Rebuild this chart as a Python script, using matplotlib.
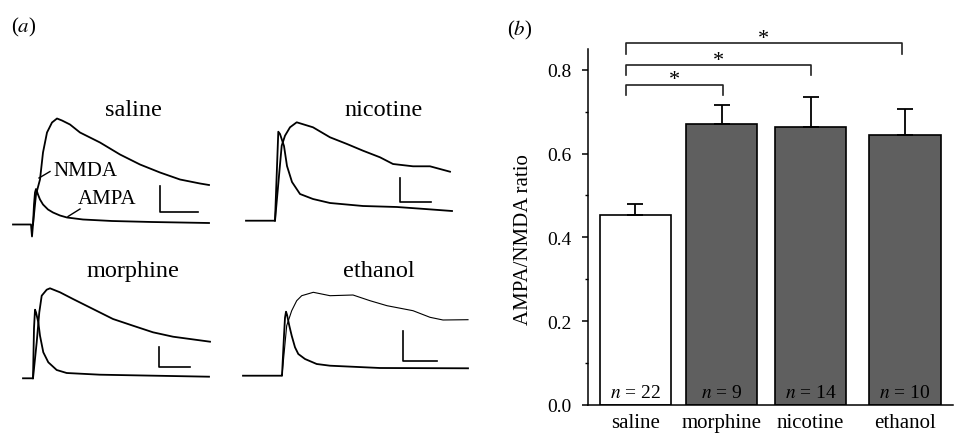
import matplotlib
matplotlib.use("Agg")
import matplotlib.pyplot as plt
from matplotlib.ticker import MultipleLocator

plt.rcParams['font.family'] = ['Liberation Serif', 'DejaVu Serif']
plt.rcParams['mathtext.fontset'] = 'stix'

# ---------------- data: panel (b) ----------------
groups = ["saline", "morphine", "nicotine", "ethanol"]
ratio = [0.453, 0.671, 0.664, 0.645]
sem = [0.026, 0.045, 0.072, 0.061]
n_cells = [22, 9, 14, 10]
sig_pairs = [(0, 1), (0, 2), (0, 3)]

# ---------------- data: panel (a) traces (time, amplitude; arbitrary units) ----------------
saline_t_ampa = [-19, -1, 0, 1, 2, 3, 4, 5, 6, 8, 11, 16, 21, 28, 35, 51, 80, 120, 177]
saline_a_ampa = [0, 0, -12, 0, 20, 32, 35.5, 33, 30, 25, 20, 15, 12, 9, 7, 5, 3.5, 2.5, 1.5]
saline_t_nmda = [1, 2, 4, 8, 11, 15, 20, 25, 30, 38, 48, 68, 88, 108, 128, 148, 168, 177]
saline_a_nmda = [0, 10, 30, 45, 72, 92, 102, 106, 104, 100, 92, 82, 70, 60, 52, 45, 41, 39.5]

nicotine_t_ampa = [-29, -1, 0, 3.3, 5, 9, 12, 17, 25, 38, 55, 88, 122, 150, 177]
nicotine_a_ampa = [0, 0, 0, 89, 86.7, 74.7, 54.7, 38.7, 26.7, 21.7, 17.7, 14.7, 13.7, 11.7, 9.7]
nicotine_t_nmda = [0, 6.7, 10, 15, 21.7, 38, 55, 72, 88, 105, 118, 138, 155, 175]
nicotine_a_nmda = [0, 75, 85, 93.4, 98.4, 93.4, 83.4, 76.7, 70, 63.4, 56.7, 54.4, 54.4, 49]

morphine_t_ampa = [-10, -1, 0, 1, 2, 3, 5.3, 7, 10.3, 15.3, 23.7, 33.7, 67, 176]
morphine_a_ampa = [0, 0, 0, 50, 68.6, 66, 56, 42.6, 26, 16, 8.3, 5.3, 3.6, 1.6]
morphine_t_nmda = [0, 3.7, 6.3, 8.7, 13.7, 17, 27, 40, 60, 80, 100, 120, 140, 177]
morphine_a_nmda = [0, 36, 66, 82.6, 88.6, 90, 86, 79.3, 69.3, 59.3, 52.6, 46, 41.6, 36.6]

ethanol_t_ampa = [-39, -1, 0, 2, 3, 4, 5, 7.3, 9.7, 13, 16.3, 23, 34.7, 48, 98, 186]
ethanol_a_ampa = [0, 0, 0, 40, 58, 64, 61, 50, 40, 28.4, 21.7, 16.7, 11.7, 10, 7.7, 7.4]
ethanol_t_nmda = [0, 4.7, 9.7, 14.7, 19.7, 31.3, 48, 71, 88, 105, 131, 148, 161, 186]
ethanol_a_nmda = [0, 50, 65, 75, 80, 83.4, 80, 80.7, 75, 70, 65, 58.4, 55.7, 56]

W, H = 958, 435
fig = plt.figure(figsize=(W / 100, H / 100), dpi=100)


def px_axes(left, top, right, bottom):
    return fig.add_axes([left / W, 1 - bottom / H, (right - left) / W, (bottom - top) / H])


def trace_panel(box, stim_x, base_y, t_a, a_a, t_n, a_n, bar, title, title_xy, nmda_lw=1.3):
    l, t, r, b = box
    ax = px_axes(l, t, r, b)
    ax.set_xlim(l - stim_x, r - stim_x)
    ax.set_ylim(base_y - b, base_y - t)
    ax.axis('off')
    ax.plot(t_n, a_n, color='black', lw=nmda_lw, solid_joinstyle='round')
    ax.plot(t_a, a_a, color='black', lw=1.3, solid_joinstyle='round')
    bx, by0, by1, bx1 = bar
    ax.plot([bx, bx, bx1], [by1, by0, by0], color='black', lw=1.2)
    ax.text(title_xy[0], title_xy[1], title, ha='center', va='center', fontsize=17.5)
    return ax


ax1 = trace_panel((8, 95, 215, 242), 32, 225.5, saline_t_ampa, saline_a_ampa,
                  saline_t_nmda, saline_a_nmda, (128, 12.5, 38.5, 166), "saline", (101, 114.5))
ax1.plot([7, 18], [46.5, 53], color='black', lw=1.0)
ax1.text(21, 53.5, "NMDA", ha='left', va='center', fontsize=15)
ax1.plot([36, 48], [8, 15.5], color='black', lw=1.0)
ax1.text(46, 25.5, "AMPA", ha='left', va='center', fontsize=15)

trace_panel((238, 95, 462, 235), 275, 221.7, nicotine_t_ampa, nicotine_a_ampa,
            nicotine_t_nmda, nicotine_a_nmda, (125, 18.7, 42.7, 156), "nicotine", (109, 110.7))
trace_panel((15, 255, 218, 392), 33, 379.3, morphine_t_ampa, morphine_a_ampa,
            morphine_t_nmda, morphine_a_nmda, (126, 11.3, 31.3, 157), "morphine", (100, 107.3))
trace_panel((235, 255, 475, 392), 282, 376.7, ethanol_t_ampa, ethanol_a_ampa,
            ethanol_t_nmda, ethanol_a_nmda, (121, 14.7, 44.7, 155), "ethanol", (97, 104.7),
            nmda_lw=0.8)

fig.text(24 / W, 1 - 27 / H, "($a$)", ha='center', va='center', fontsize=15)
fig.text(520 / W, 1 - 30 / H, "($b$)", ha='center', va='center', fontsize=15)

# ---------------- panel (b) ----------------
axb = px_axes(588.3, 50, 953, 405.7)
pos = [0, 0.96, 1.95, 3.0]
colors = ['white', '#5f5f5f', '#5f5f5f', '#5f5f5f']
axb.bar(pos, ratio, width=0.79, color=colors, edgecolor='black', linewidth=1.2, zorder=2)
axb.errorbar(pos, ratio, yerr=[[0] * 4, sem], fmt='none', ecolor='black', elinewidth=1.3,
             capsize=6, capthick=1.3, zorder=3)
axb.set_xlim(-0.523, 3.534)
axb.set_ylim(0, 0.85)
for s in ['top', 'right']:
    axb.spines[s].set_visible(False)
for s in ['left', 'bottom']:
    axb.spines[s].set_linewidth(1.1)
axb.yaxis.set_minor_locator(MultipleLocator(0.1))
axb.set_yticks([0, 0.2, 0.4, 0.6, 0.8])
axb.set_yticklabels(["0.0", "0.2", "0.4", "0.6", "0.8"], fontsize=14)
axb.tick_params(axis='y', which='major', direction='out', length=4, width=1.1, pad=8)
axb.tick_params(axis='y', which='minor', direction='out', length=2.2, width=1.0)
axb.set_xticks(pos)
axb.set_xticklabels(groups, fontsize=15)
axb.tick_params(axis='x', length=0, pad=6)
axb.set_ylabel("AMPA/NMDA ratio", fontsize=15)
axb.yaxis.set_label_coords(-0.152, 0.466)

for p, n in zip(pos, n_cells):
    axb.text(p, 0.0295, f"$n$ = {n}", ha='center', va='center', fontsize=14, zorder=4)

bracket_y = [0.7647, 0.8117, 0.8636]
drop = 0.025
for (i, j), yb in zip(sig_pairs, bracket_y):
    x0 = pos[i] - 0.107
    x1 = pos[j] + (0.012 if j == 1 else (0.0 if j == 2 else -0.037))
    axb.plot([x0, x0, x1, x1], [yb - drop, yb, yb, yb - drop], color='#222222', lw=1.2,
             clip_on=False)
    axb.text((x0 + x1) / 2, yb - 0.011, "*", ha='center', va='bottom', fontsize=16)

fig.savefig("out.png", dpi=100)
